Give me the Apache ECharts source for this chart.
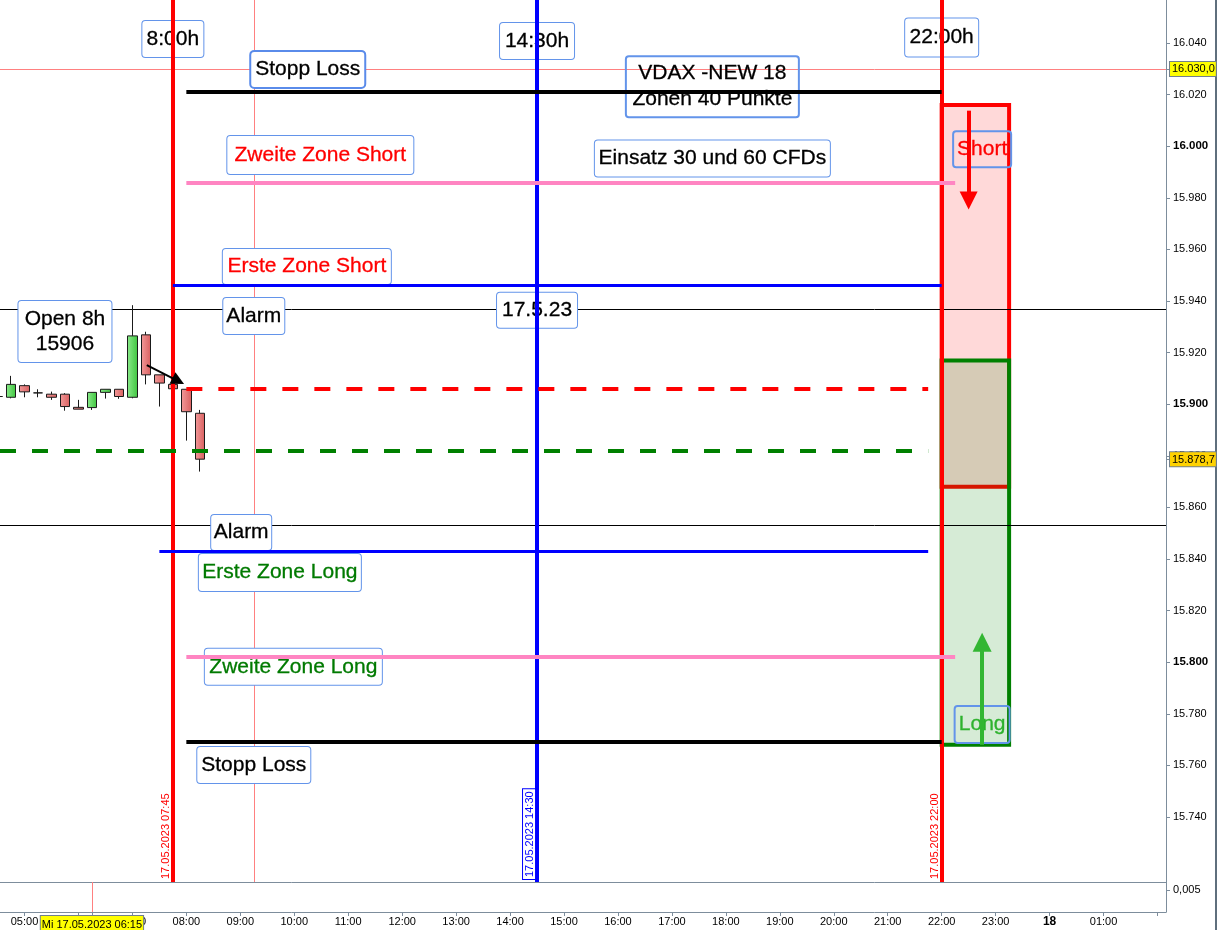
<!DOCTYPE html>
<html>
<head>
<meta charset="utf-8">
<title>VDAX Zonen 17.05.2023</title>
<script src="https://cdn.jsdelivr.net/npm/echarts@6/dist/echarts.min.js"></script>
<style>
  html, body { margin: 0; padding: 0; background: #ffffff; }
  #chart { width: 1217px; height: 930px; }
</style>
</head>
<body>
<div id="chart"></div>
<script>
// ---------- visible window (hours after 17.05.2023 00:00, price) ----------
const viewStart = 4.546;
const viewEnd = 26.158;
const priceFloor = 15714.8;
const priceCeil = 16056.7;

// ---------- 15-minute candles, Mi 17.05.2023 ----------
const candleTimes = ['04:30','04:45','05:00','05:15','05:30','05:45','06:00','06:15','06:30','06:45','07:00','07:15','07:30','07:45','08:00','08:15'];
const candleOpen  = [15903.0,15902.7,15907.2,15904.4,15903.9,15903.9,15898.8,15898.7,15904.6,15905.8,15902.7,15926.9,15911.4,15907.7,15905.8,15896.5];
const candleClose = [15903.0,15907.7,15904.8,15904.4,15902.7,15899.1,15898.1,15904.6,15905.8,15903.0,15926.5,15911.4,15908.2,15906.0,15897.1,15878.7];
const candleLow   = [15902.4,15902.3,15902.7,15902.7,15901.7,15897.5,15898.1,15897.8,15902.2,15902.1,15902.3,15907.7,15899.1,15905.4,15885.9,15873.9];
const candleHigh  = [15903.6,15911.0,15907.7,15905.8,15904.9,15904.3,15901.7,15904.6,15905.8,15905.8,15938.4,15928.1,15911.4,15908.0,15905.8,15897.8];
const lastPrice = candleClose[candleClose.length - 1];

// ---------- trading levels ----------
const levelNames  = ['Stopp Loss Short','Zweite Zone Short','Erste Zone Short','Open 8h','Long-Linie','Erste Zone Long','Zweite Zone Long','Stopp Loss Long'];
const levelPrices = [16021, 15986, 15946, 15906, 15882, 15843, 15802, 15769];
const levelFrom   = ['08:00','08:00','07:45','08:00', null,  '07:30','08:00','08:00'];
const levelTo     = ['22:00','22:15','22:00','21:45','21:45','21:45','22:15','22:00'];

// alarm lines and the crosshair
const alarmPrices = [15937, 15853];
const cursorPrice = 16030;
const cursorTime = '09:16';
const cursorStampTime = '06:15';
const cursorStamp = 'Mi 17.05.2023 06:15';

// session markers
const sessionTimes  = ['07:45','14:30','22:00'];
const sessionStamps = ['17.05.2023 07:45','17.05.2023 14:30','17.05.2023 22:00'];

// target zones after 22:00
const zoneNames  = ['Short','Long'];
const zoneTop    = [16016, 15917];
const zoneBottom = [15868, 15768];
const zoneFrom = '22:00';
const zoneTo   = '23:15';

// arrows (down into Short zone, up into Long zone, open marker)
const arrowFromTime  = ['22:30','22:45','07:16'];
const arrowFromPrice = [16013.8, 15768, 15915.2];
const arrowToTime    = ['22:30','22:45','07:51'];
const arrowToPrice   = [15979.0, 15807.7, 15909.0];

// text notes anchored at (time, price)
const annotTimes  = ['07:45','14:30','22:00','10:15','17:45','10:29','17:45','22:45','10:14','09:15','14:30','05:45','09:01','09:44','09:59','22:45','09:15'];
const annotPrices = [16041.6,16040.8,16042.2,16029.8,16023.1,15996.6,15995.3,15998.8,15953.4,15934.2,15936.4,15928.2,15850.3,15834.8,15798.2,15775.9,15760.2];
const annotTexts  = ['8:00h','14:30h','22:00h','Stopp Loss','VDAX -NEW 18\nZonen 40 Punkte','Zweite Zone Short','Einsatz 30 und 60 CFDs','Short','Erste Zone Short','Alarm','17.5.23','Open 8h\n' + levelPrices[3],'Alarm','Erste Zone Long','Zweite Zone Long','Long','Stopp Loss'];

// axis ticks
const priceTicks = [15740,15760,15780,15800,15820,15840,15860,15880,15900,15920,15940,15960,15980,16000,16020,16040];
const hourTicks  = [5,6,7,8,9,10,11,12,13,14,15,16,17,18,19,20,21,22,23,24,25,26];
const hourLabels = ['05:00','06:00','07:00','08:00','09:00','10:00','11:00','12:00','13:00','14:00','15:00','16:00','17:00','18:00','19:00','20:00','21:00','22:00','23:00','18','01:00'];

// ---------- styles ----------
const FONT = '"Liberation Sans", Arial, Helvetica, sans-serif';
const axisGray = '#7D8D9C';
const boxBlue = '#6394EA';
const cursorPink = '#FF8080';
const levelStyles = [
  { color: '#000000', width: 4, type: 'solid' },
  { color: '#FF85C2', width: 4, type: 'solid' },
  { color: '#0000FF', width: 3, type: 'solid' },
  { color: '#FF0000', width: 4, type: [16, 16] },
  { color: '#008000', width: 4, type: [16, 16] },
  { color: '#0000FF', width: 3, type: 'solid' },
  { color: '#FF85C2', width: 4, type: 'solid' },
  { color: '#000000', width: 4, type: 'solid' }
];
const sessionStyles = [
  { color: '#FF0000', boxed: false },
  { color: '#0000FF', boxed: true },
  { color: '#FF0000', boxed: false }
];
const zoneStyles = [
  { fill: 'rgba(255,0,0,0.15)', border: '#FF0000' },
  { fill: 'rgba(0,128,0,0.16)', border: '#008000' }
];
const arrowStyles = [
  { color: '#FF0000', width: 4, head: 18 },
  { color: '#33B633', width: 4, head: 19 },
  { color: '#000000', width: 2, head: 13 }
];
const annotBoxes = [
  { w: 63,  h: 38 }, { w: 76, h: 38 }, { w: 75, h: 40 },
  { w: 117, h: 39, bw: 2, bc: '#5A8BEA' },
  { w: 175, h: 63, lh: 26, bg: 'transparent' },
  { w: 188, h: 40, c: '#FF0000' },
  { w: 237, h: 38 },
  { w: 60,  h: 38, c: '#FF0000', bg: 'transparent' },
  { w: 170, h: 37, c: '#FF0000' },
  { w: 63,  h: 38 }, { w: 82, h: 37 },
  { w: 95,  h: 63, lh: 25 },
  { w: 62,  h: 37 },
  { w: 164, h: 39, c: '#007A00' },
  { w: 179, h: 38, c: '#007A00' },
  { w: 57,  h: 39, c: '#2DB22D', bg: 'transparent' },
  { w: 115, h: 38 }
];

// ---------- helpers ----------
function hrs(t) { const p = t.split(':'); return +p[0] + (+p[1]) / 60; }
function de(v, digits) {
  const s = v.toFixed(digits);
  const parts = s.split('.');
  const g = parts[0].replace(/\B(?=(\d{3})+(?!\d))/g, '.');
  return parts[1] ? g + ',' + parts[1] : g;
}
const same = (a, b) => Math.abs(a - b) < 1e-6;

const chart = echarts.init(document.getElementById('chart'), null, { renderer: 'canvas' });

const cursorStampHour = hrs(cursorStampTime);

const candleData = candleTimes.map((t, i) => [hrs(t), candleOpen[i], candleClose[i], candleLow[i], candleHigh[i]]);

const annotData = annotTimes.map((t, i) => {
  const b = annotBoxes[i];
  const lines = annotTexts[i].split('\n').length;
  const bw = b.bw || 1;
  const lh = b.lh || (b.h - 2 * bw);
  const padV = Math.max(0, (b.h - 2 * bw - lh * lines) / 2);
  const color = b.c || '#000000';
  return {
    value: [hrs(t), annotPrices[i]],
    label: {
      show: true,
      position: 'inside',
      align: 'center',
      verticalAlign: 'middle',
      formatter: annotTexts[i],
      width: b.w - 2 * bw,
      lineHeight: lh,
      padding: [padV, 0, padV, 0],
      fontSize: 21,
      fontFamily: FONT,
      color: color,
      opacity: 1,
      textBorderColor: color,
      textBorderWidth: 0.3,
      backgroundColor: b.bg || '#ffffff',
      borderColor: b.bc || boxBlue,
      borderWidth: bw,
      borderRadius: 3
    }
  };
});

const option = {
  animation: false,
  backgroundColor: '#ffffff',
  textStyle: { fontFamily: FONT },
  grid: [
    { left: 0, right: 51, top: 0, bottom: 48, containLabel: false, outerBoundsMode: 'none' },
    { left: 0, right: 51, top: 882, bottom: 18, containLabel: false, outerBoundsMode: 'none' }
  ],
  xAxis: [
    {
      type: 'value', gridIndex: 0, min: viewStart, max: viewEnd, position: 'bottom',
      axisLine: { show: true, onZero: false, lineStyle: { color: axisGray, width: 1 } },
      axisTick: { show: false }, axisLabel: { show: false }, splitLine: { show: false }
    },
    {
      type: 'value', gridIndex: 1, min: viewStart, max: viewEnd, position: 'bottom',
      axisLine: { show: true, onZero: false, lineStyle: { color: axisGray, width: 1 } },
      axisTick: { show: true, length: 4, lineStyle: { color: axisGray }, customValues: hourTicks.concat([cursorStampHour]) },
      splitLine: { show: false },
      axisLabel: {
        show: true,
        customValues: hourTicks.slice(0, hourLabels.length).concat([cursorStampHour]),
        margin: 4,
        fontSize: 11,
        fontFamily: FONT,
        color: '#000000',
        formatter: (v) => {
          if (same(v, cursorStampHour)) return '{tag|' + cursorStamp + '}';
          const idx = hourTicks.findIndex(h => same(h, v));
          const s = hourLabels[idx] || '';
          return s === '18' ? '{b|18}' : s;
        },
        rich: {
          b: { fontSize: 12, fontWeight: 'bold', color: '#000000', fontFamily: FONT },
          tag: { fontSize: 11, color: '#000000', fontFamily: FONT, backgroundColor: '#FFFF00',
                 borderColor: '#71808E', borderWidth: 1, padding: [3, 1, 2, 1] }
        }
      }
    }
  ],
  yAxis: [
    {
      type: 'value', gridIndex: 0, position: 'right', min: priceFloor, max: priceCeil,
      axisLine: { show: true, onZero: false, lineStyle: { color: axisGray, width: 1 } },
      axisTick: { show: true, length: 4, lineStyle: { color: axisGray }, customValues: priceTicks.concat([cursorPrice, lastPrice]) },
      splitLine: { show: false },
      axisLabel: {
        show: true,
        customValues: priceTicks.concat([cursorPrice, lastPrice]),
        margin: 4,
        fontSize: 11,
        fontFamily: FONT,
        color: '#000000',
        formatter: (v) => {
          if (same(v, cursorPrice)) return '{cur|' + de(v, 1) + '}';
          if (same(v, lastPrice)) return '{last|' + de(v, 1) + '}';
          return (Math.round(v) % 100 === 0 ? '{b|' : '{n|') + de(v, 0) + '}';
        },
        rich: {
          n: { fontSize: 11, color: '#000000', fontFamily: FONT, padding: [0, 0, 0, 3] },
          b: { fontSize: 11.5, fontWeight: 'bold', color: '#000000', fontFamily: FONT, padding: [0, 0, 0, 3] },
          cur: { fontSize: 11, color: '#000000', fontFamily: FONT, backgroundColor: '#FFFF00',
                 borderColor: '#71808E', borderWidth: 1, padding: [2, 1, 1, 2] },
          last: { fontSize: 11, color: '#000000', fontFamily: FONT, backgroundColor: '#FFD200',
                  borderColor: '#71808E', borderWidth: 1, padding: [2, 1, 1, 2] }
        }
      }
    },
    {
      type: 'value', gridIndex: 1, position: 'right', min: 0, max: 0.0068,
      axisLine: { show: true, onZero: false, lineStyle: { color: axisGray, width: 1 } },
      axisTick: { show: true, length: 4, lineStyle: { color: axisGray }, customValues: [0.005] },
      splitLine: { show: false },
      axisLabel: {
        show: true, customValues: [0.005], margin: 4, fontSize: 11, fontFamily: FONT, color: '#000000',
        formatter: (v) => '{n|' + v.toFixed(3).replace('.', ',') + '}',
        rich: { n: { fontSize: 11, color: '#000000', fontFamily: FONT, padding: [0, 0, 0, 3] } }
      }
    }
  ],
  graphic: [
    { type: 'rect', right: 0, top: 0, silent: true, shape: { width: 2, height: 930 }, style: { fill: '#5F6F7D' } }
  ],
  series: [
    // target zones
    {
      type: 'line', name: 'Zonen', xAxisIndex: 0, yAxisIndex: 0, data: [], silent: true,
      markArea: {
        z: 1, silent: true,
        label: { show: false },
        data: zoneNames.map((n, i) => [
          { name: n, coord: [hrs(zoneFrom), zoneTop[i]],
            itemStyle: { color: zoneStyles[i].fill, borderColor: zoneStyles[i].border, borderWidth: 4 } },
          { coord: [hrs(zoneTo), zoneBottom[i]] }
        ])
      }
    },
    // crosshair
    {
      type: 'line', name: 'Fadenkreuz', xAxisIndex: 0, yAxisIndex: 0, data: [], silent: true,
      markLine: {
        z: 1, silent: true, symbol: ['none', 'none'], label: { show: false },
        lineStyle: { color: cursorPink, width: 1, type: 'solid', opacity: 1 },
        data: [
          [{ coord: [viewStart, cursorPrice], lineStyle: { color: cursorPink, width: 1, type: 'solid', opacity: 1 } },
           { coord: [viewEnd, cursorPrice] }],
          [{ coord: [hrs(cursorTime), priceFloor], lineStyle: { color: cursorPink, width: 1, type: 'solid', opacity: 1 } },
           { coord: [hrs(cursorTime), priceCeil] }]
        ]
      }
    },
    // alarm lines
    {
      type: 'line', name: 'Alarm', xAxisIndex: 0, yAxisIndex: 0, data: [], silent: true,
      markLine: {
        z: 2, silent: true, symbol: ['none', 'none'], label: { show: false },
        lineStyle: { color: '#000000', width: 1, type: 'solid', opacity: 1 },
        data: alarmPrices.map(p => [
          { coord: [viewStart, p], lineStyle: { color: '#000000', width: 1, type: 'solid', opacity: 1 } },
          { coord: [viewEnd, p] }
        ])
      }
    },
    // candles
    {
      type: 'candlestick', name: 'VDAX', xAxisIndex: 0, yAxisIndex: 0, z: 3, silent: true,
      barWidth: 10,
      encode: { x: 0, y: [1, 2, 3, 4] },
      data: candleData,
      itemStyle: {
        color: new echarts.graphic.LinearGradient(0, 0, 1, 0, [
          { offset: 0, color: '#8DEB8D' }, { offset: 1, color: '#3EC53E' }
        ]),
        color0: new echarts.graphic.LinearGradient(0, 0, 1, 0, [
          { offset: 0, color: '#F29A9A' }, { offset: 1, color: '#D95F5F' }
        ]),
        borderColor: '#1A1A1A',
        borderColor0: '#1A1A1A',
        borderColorDoji: '#1A1A1A',
        borderWidth: 1
      }
    },
    // notes
    {
      type: 'scatter', name: 'Notizen', xAxisIndex: 0, yAxisIndex: 0, z: 4, silent: true,
      symbolSize: 1, itemStyle: { color: 'rgba(0,0,0,0)' },
      data: annotData
    },
    // session markers
    {
      type: 'line', name: 'Sessions', xAxisIndex: 0, yAxisIndex: 0, data: [], silent: true,
      markLine: {
        z: 5, silent: true, symbol: ['none', 'none'],
        data: sessionTimes.map((t, i) => {
          const st = sessionStyles[i];
          return [
            {
              coord: [hrs(t), priceFloor],
              lineStyle: { color: st.color, width: 4, type: 'solid', opacity: 1 },
              label: Object.assign({
                show: true, formatter: sessionStamps[i], position: 'insideStartTop',
                distance: [3, st.boxed ? 2 : 1], color: st.color, fontSize: 11, fontFamily: FONT
              }, st.boxed ? { backgroundColor: '#ffffff', borderColor: st.color, borderWidth: 1, padding: [1, 2, 0, 2] } : {})
            },
            { coord: [hrs(t), priceCeil] }
          ];
        })
      }
    },
    // level lines
    {
      type: 'line', name: 'Zonenlinien', xAxisIndex: 0, yAxisIndex: 0, data: [], silent: true,
      markLine: {
        z: 6, silent: true, symbol: ['none', 'none'], label: { show: false },
        data: levelPrices.map((p, i) => [
          { name: levelNames[i], coord: [levelFrom[i] ? hrs(levelFrom[i]) : viewStart, p],
            lineStyle: { color: levelStyles[i].color, width: levelStyles[i].width, type: levelStyles[i].type, opacity: 1 } },
          { coord: [hrs(levelTo[i]), p] }
        ])
      }
    },
    // arrows
    {
      type: 'line', name: 'Pfeile', xAxisIndex: 0, yAxisIndex: 0, data: [], silent: true,
      markLine: {
        z: 7, silent: true, symbol: ['none', 'triangle'], label: { show: false },
        data: arrowFromTime.map((t, i) => [
          { coord: [hrs(t), arrowFromPrice[i]], symbol: 'none',
            lineStyle: { color: arrowStyles[i].color, width: arrowStyles[i].width, type: 'solid', opacity: 1 } },
          { coord: [hrs(arrowToTime[i]), arrowToPrice[i]], symbol: 'triangle', symbolSize: arrowStyles[i].head }
        ])
      }
    },
    // crosshair in the lower pane
    {
      type: 'line', name: 'Fadenkreuz unten', xAxisIndex: 1, yAxisIndex: 1, data: [], silent: true,
      markLine: {
        z: 2, silent: true, symbol: ['none', 'none'], label: { show: false },
        data: [[{ coord: [cursorStampHour, 0], lineStyle: { color: cursorPink, width: 1, type: 'solid', opacity: 1 } },
                { coord: [cursorStampHour, 0.0068] }]]
      }
    }
  ]
};

chart.setOption(option);
</script>
</body>
</html>
